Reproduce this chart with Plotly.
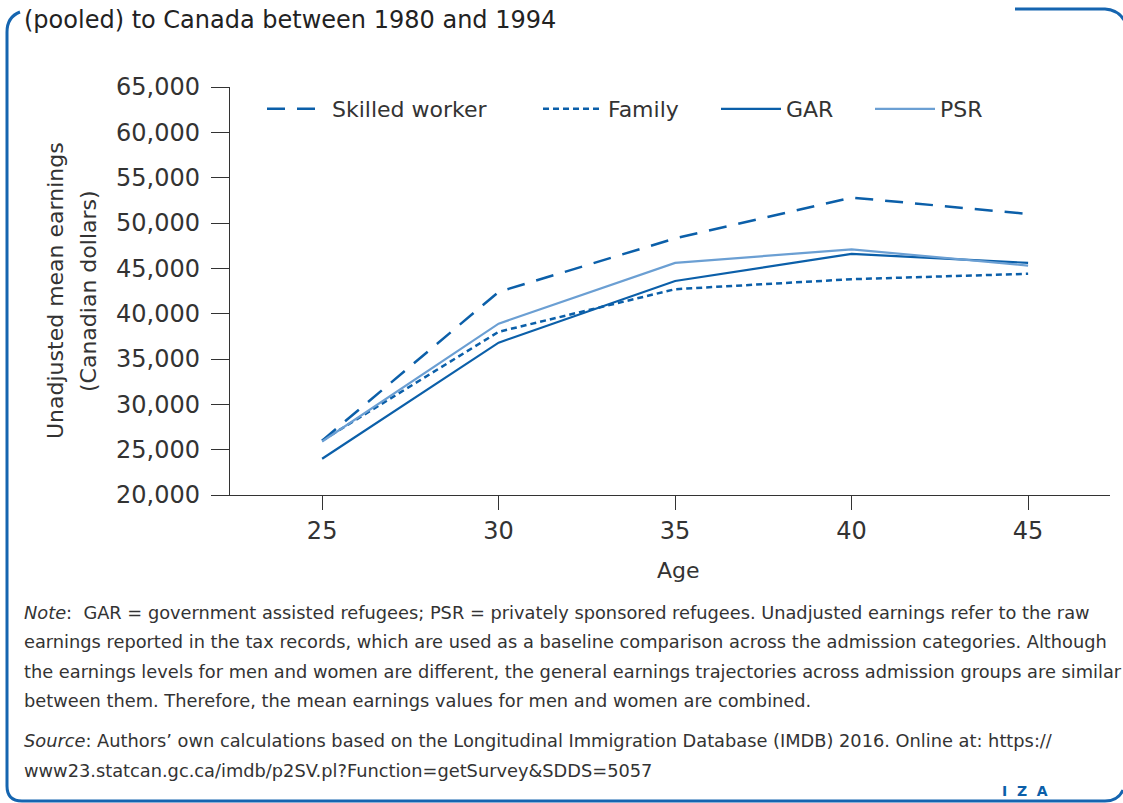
import plotly.graph_objects as go

ages = [25, 30, 35, 40, 45]
skilled_worker = [26000, 42400, 48300, 52800, 51000]
family = [26000, 38000, 42700, 43800, 44400]
gar = [24000, 36800, 43600, 46600, 45600]
psr = [25900, 38900, 45600, 47100, 45300]

y_ticks = [20000, 25000, 30000, 35000, 40000, 45000, 50000, 55000, 60000, 65000]
x_ticks = [25, 30, 35, 40, 45]

title_line = "(pooled) to Canada between 1980 and 1994"
y_title = ["Unadjusted mean earnings", "(Canadian dollars)"]
note_lines = [
    "<i>Note</i>:  GAR = government assisted refugees; PSR = privately sponsored refugees. Unadjusted earnings refer to the raw",
    "earnings reported in the tax records, which are used as a baseline comparison across the admission categories. Although",
    "the earnings levels for men and women are different, the general earnings trajectories across admission groups are similar",
    "between them. Therefore, the mean earnings values for men and women are combined.",
]
source_lines = [
    "<i>Source</i>: Authors’ own calculations based on the Longitudinal Immigration Database (IMDB) 2016. Online at: https://",
    "www23.statcan.gc.ca/imdb/p2SV.pl?Function=getSurvey&SDDS=5057",
]

W, H = 1123, 803
L, R, T, B = 230, 1110, 87, 495
FONT = "DejaVu Sans"
TXT = "#333333"
DARK = "#0B5FA9"
LIGHT = "#6B9FD3"


def px(x):
    return (x - L) / (R - L)


def py(y):
    return (B - y) / (B - T)


fig = go.Figure()
fig.add_trace(go.Scatter(x=ages, y=skilled_worker, name="Skilled worker", mode="lines",
                         legend="legend",
                         line=dict(color=DARK, width=2.5, dash="18px,12px")))
fig.add_trace(go.Scatter(x=ages, y=family, name="Family", mode="lines",
                         legend="legend2",
                         line=dict(color=DARK, width=2.5, dash="6px,4px")))
fig.add_trace(go.Scatter(x=ages, y=gar, name="GAR", mode="lines",
                         legend="legend3",
                         line=dict(color=DARK, width=2.2)))
fig.add_trace(go.Scatter(x=ages, y=psr, name="PSR", mode="lines",
                         legend="legend4",
                         line=dict(color=LIGHT, width=2.2)))

annotations = [
    dict(text=title_line, x=px(22), y=py(20), xanchor="left", yanchor="middle",
         font=dict(size=24, color="#222222")),
    dict(text=y_title[0], x=px(55), y=py(291), textangle=-90,
         xanchor="center", yanchor="middle", font=dict(size=22, color=TXT)),
    dict(text=y_title[1], x=px(88), y=py(291), textangle=-90,
         xanchor="center", yanchor="middle", font=dict(size=22, color=TXT)),
    dict(text="Age", x=px(678), y=py(570), xanchor="center", yanchor="middle",
         font=dict(size=22, color=TXT)),
    dict(text="<b>I  Z  A</b>", x=px(1025), y=py(791), xanchor="center", yanchor="middle",
         font=dict(size=14, color=DARK)),
]
for i, line in enumerate(note_lines):
    annotations.append(dict(text=line, x=px(22), y=py(612 + i * 29.5), xanchor="left",
                            yanchor="middle", font=dict(size=17.8, color=TXT)))
for i, line in enumerate(source_lines):
    annotations.append(dict(text=line, x=px(22), y=py(740 + i * 30), xanchor="left",
                            yanchor="middle", font=dict(size=17.8, color=TXT)))
for a in annotations:
    a.update(xref="paper", yref="paper", showarrow=False)

border = [
    f"M{px(20)},{py(12)} Q{px(7)},{py(17)} {px(7)},{py(32)} L{px(7)},{py(786)} "
    f"Q{px(7)},{py(801)} {px(22)},{py(801)} L{px(1105)},{py(801)} Q{px(1118)},{py(801)} {px(1123)},{py(790)}",
    f"M{px(1015)},{py(9)} L{px(1105)},{py(9)} Q{px(1118)},{py(10)} {px(1124)},{py(20)}",
]
shapes = [dict(type="path", path=p, xref="paper", yref="paper",
               line=dict(color="#1565B0", width=3)) for p in border]

ITEM_W = 60


def legend_at(text_left):
    return dict(orientation="h", x=px(text_left - ITEM_W - 10), y=py(109), xanchor="left",
                yanchor="middle", font=dict(size=22, color=TXT), itemwidth=ITEM_W,
                bgcolor="rgba(0,0,0,0)")


fig.update_layout(
    width=W, height=H,
    margin=dict(l=L, r=W - R, t=T, b=H - B),
    paper_bgcolor="white", plot_bgcolor="white",
    font=dict(family=FONT, color=TXT, size=22),
    showlegend=True,
    legend=legend_at(332),
    legend2=legend_at(608),
    legend3=legend_at(786),
    legend4=legend_at(940),
    annotations=annotations,
    shapes=shapes,
)
fig.update_xaxes(range=[22.39, 47.32], tickvals=x_ticks, showgrid=False, zeroline=False,
                 showline=True, linecolor="#333333", linewidth=1.3,
                 ticks="outside", ticklen=14, tickcolor="#333333", tickwidth=1.3,
                 tickfont=dict(size=24, color=TXT))
fig.update_yaxes(range=[20000, 65000], tickvals=y_ticks, tickformat=",", showgrid=False,
                 zeroline=False, showline=True, linecolor="#333333", linewidth=1.3,
                 ticks="outside", ticklen=18, tickcolor="#333333", tickwidth=1.3,
                 tickfont=dict(size=24, color=TXT), ticklabelstandoff=6)

fig.write_html("out.html", config={"displayModeBar": False},
               post_script="document.body.style.margin='0';")
